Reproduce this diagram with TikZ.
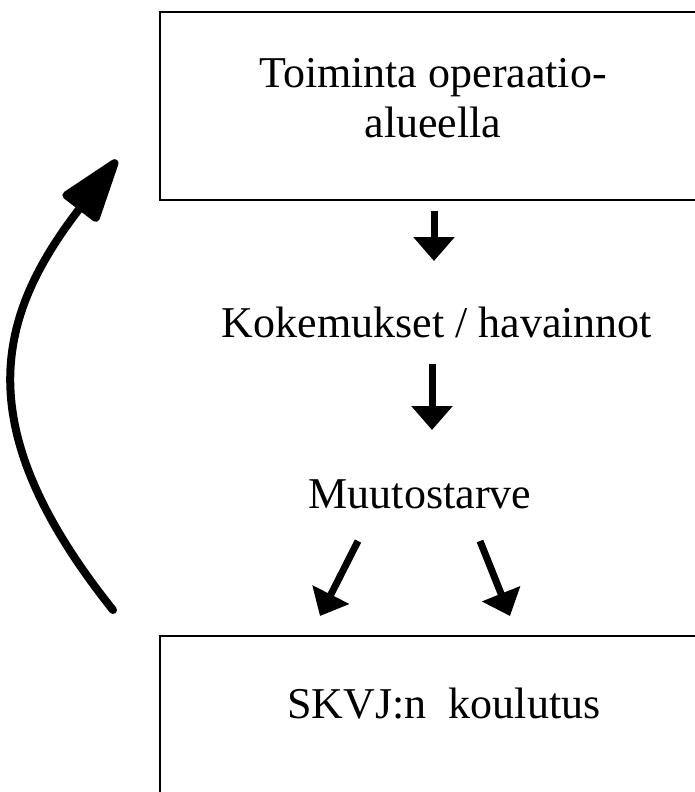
\documentclass[tikz,border=0pt]{standalone}
\usepackage{fontspec}
\setmainfont{Liberation Serif}
\usetikzlibrary{arrows.meta}

\begin{document}
\begin{tikzpicture}[x=1pt,y=-1pt,
    txt/.style={font=\fontsize{44}{50}\selectfont, inner sep=0pt, anchor=base},
    flowarrow/.style={line width=7pt, -{Triangle[length=24pt,width=40pt]}},
    backflow/.style={line width=8pt, line cap=round, -{Triangle[length=72pt,width=46pt,round]}}]

    \useasboundingbox (0,0) rectangle (695,792);

    % Draw the two boxes (their right sides run off the page)
    \draw[line width=2pt] (720,12) -- (160,12) -- (160,200) -- (720,200);
    \draw[line width=2pt] (720,636) -- (160,636) -- (160,830);

    % Texts
    \node[txt, anchor=center, align=center] (action) at (433,98) {Toiminta operaatio-\\alueella};
    \node[txt] (findings) at (437,337) {Kokemukset / havainnot};
    \node[txt] (need) at (420,508) {Muutostarve};
    \node[txt] (training) at (444,718) {SKVJ:n\ \ koulutus};

    % Arrow ends
    \coordinate (a1s) at (434,211); \coordinate (a1e) at (434,261);
    \coordinate (a2s) at (432,364); \coordinate (a2e) at (432,430);
    \coordinate (a3s) at (358,541); \coordinate (a3e) at (320,616);
    \coordinate (a4s) at (480,541); \coordinate (a4e) at (510,616);

    % Down arrows
    \draw[flowarrow] (a1s) -- (a1e);
    \draw[flowarrow] (a2s) -- (a2e);
    \draw[flowarrow] (a3s) -- (a3e);
    \draw[flowarrow] (a4s) -- (a4e);

    % Curved arrow back to the top
    \coordinate (loopstart) at (113,610);
    \coordinate (looptip) at (117,160);
    \draw[backflow] (loopstart) .. controls (-33,427) and (-4,317) .. (looptip);

\end{tikzpicture}
\end{document}
